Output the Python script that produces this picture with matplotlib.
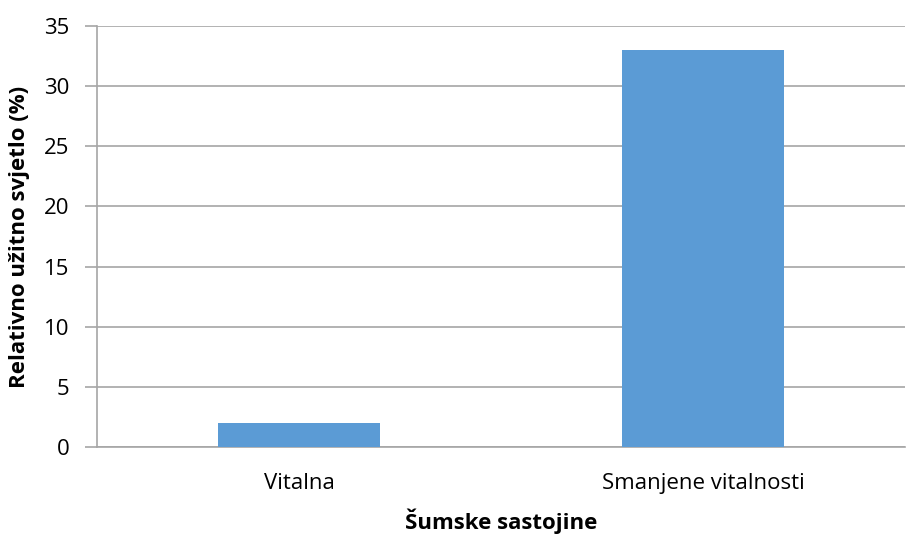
import matplotlib.pyplot as plt

categories = ["Vitalna", "Smanjene vitalnosti"]
values = [2, 33]
yticks = [0, 5, 10, 15, 20, 25, 30, 35]

plt.rcParams['font.family'] = ['Open Sans', 'DejaVu Sans']

fig = plt.figure(figsize=(9.16, 5.35), dpi=100)
ax = fig.add_axes([0.106, 0.1645, 0.882, 0.787])

ax.bar(range(len(categories)), values, width=0.4, color='#5B9BD5', zorder=3)
ax.set_xlim(-0.5, 1.5)
ax.set_ylim(0, 35)
ax.set_yticks(yticks)
ax.set_xticks(range(len(categories)))
ax.set_xticklabels(categories)

ax.grid(axis='y', color='#a6a6a6', linewidth=1.2, zorder=0)
for s in ['top', 'right']:
    ax.spines[s].set_visible(False)
for s in ['left', 'bottom']:
    ax.spines[s].set_color('#a6a6a6')
    ax.spines[s].set_linewidth(1.2)

ax.tick_params(axis='y', length=9, color='#a6a6a6', width=1.2, labelsize=16, pad=11)
ax.tick_params(axis='x', length=0, labelsize=16, pad=19)

ax.set_ylabel("Relativno užitno svjetlo (%)", fontsize=16, fontweight='bold', labelpad=10)
ax.set_xlabel("Šumske sastojine", fontsize=16, fontweight='bold', labelpad=10)

fig.savefig("out.png", dpi=100)
